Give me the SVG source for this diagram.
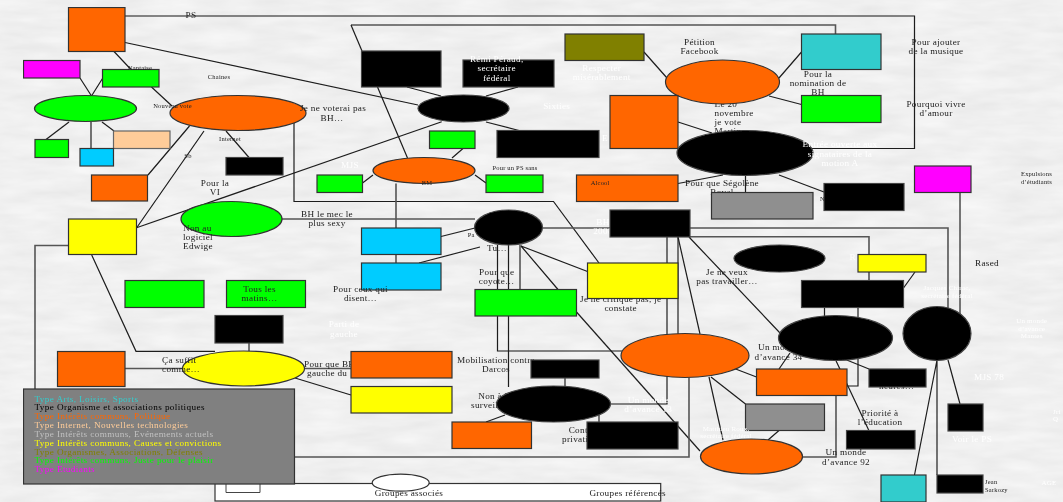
<svg xmlns="http://www.w3.org/2000/svg" width="1063" height="502" viewBox="0 0 1063 502">
<defs>
<filter id="paper" x="0" y="0" width="100%" height="100%" color-interpolation-filters="sRGB">
<feTurbulence type="fractalNoise" baseFrequency="0.02 0.09" numOctaves="3" seed="4"/>
<feColorMatrix type="matrix" values="0.07 0 0 0 0.905  0.07 0 0 0 0.905  0.07 0 0 0 0.905  0 0 0 0 1"/>
</filter>
<filter id="soft" x="0" y="0" width="100%" height="100%"><feGaussianBlur stdDeviation="0.35"/></filter>
</defs>
<style>
text{font-family:"Liberation Serif","Times New Roman",serif;font-size:9.2px;letter-spacing:.3px;fill:#222;text-anchor:middle}
.s{font-size:6.5px;letter-spacing:.2px}
.l{text-anchor:start}
.w{fill:#fff}
.t{font-size:7px;letter-spacing:.2px}
.leg{font-size:9.2px;letter-spacing:.38px;text-anchor:start}
#connectors path{fill:none;stroke:#1c1c1c;stroke-width:1.2}
#connectors path.g{stroke:#555;stroke-width:1.6}
rect,ellipse{stroke:#333;stroke-width:1.2}
.o{fill:#f60}.gr{fill:#0f0}.k{fill:#000;stroke:#444}.y{fill:#ff0}.b{fill:#0cf}.m{fill:#f0f}.c{fill:#3cc}
.p{fill:#fc9;stroke:#666}.ol{fill:#808000}.n{fill:#8f8f8f}.wh{fill:#fff}
</style>
<rect width="1063" height="502" filter="url(#paper)" style="stroke:none"/>
<g filter="url(#soft)">
<g id="connectors">
<path d="M125 16H914.500V148.500H803"/>
<path class="g" d="M835.500 34V25H351"/>
<path d="M351 25L362 51"/>
<path d="M125 42.500L418 105"/>
<path d="M114 51.500L131 69.500M151.500 87L172 106M80 78L91.500 96L102.500 78.500"/>
<path d="M69 122L46 139.500"/><path d="M91 122V148.500"/><path d="M102 122L114 131"/>
<path d="M189.500 126L148 175M204 131L136.500 228M226 131L249 157.500"/>
<path d="M294 122V201.500H553.500L599 263"/>
<path d="M136.500 227.700L441.700 121.700"/>
<path d="M407 87L441 96M518 87L486 96M486 122L519 130.500M377.500 87L407.500 158"/>
<path d="M463 148.500L452 158M475 175L486 183M373 175L362.500 183"/>
<path class="g" d="M396 183.500V228M396 254.500V263"/>
<path class="g" d="M282 219H475"/>
<path d="M441 236.500L475 228M419 263L480 247"/>
<path class="g" d="M543 228H948V315"/>
<path class="g" d="M690 236.700H869V254.500"/>
<path d="M869 272V280.500M915 272L903.500 288"/>
<path class="g" d="M960 192.500V316"/>
<path d="M644 52L667 78M779 78L801.500 52M769 96L801.500 104.500M678 122L712 133M678 183.500L723 175M779 175L824 192"/>
<path d="M745.500 175V192.500"/>
<path d="M667 237V404H610"/>
<path class="g" d="M678 237V334"/>
<path d="M678 237L700 334M689 237L780 333"/>
<path d="M497.500 245V351H622"/>
<path d="M508.500 245V387"/>
<path class="g" d="M520 245V289.500"/>
<path d="M521 246L558 289.500M521 246L587.500 271.500"/>
<path d="M576.500 312L700 451"/>
<path class="g" d="M689 377.500V457H294"/>
<path class="g" d="M565 378V387M599 415V422"/>
<path d="M486 422L505 415"/>
<path class="g" d="M305 368.500H351M125 368.500H182"/>
<path d="M295 378L351 395"/>
<path d="M733 368L756.500 377M711 377L745.500 404M709 377L723 440M779 430.500L768 440"/>
<path d="M779 369L790 353M836 360.700L869 430.700M846.700 360L869 369"/>
<path d="M824.500 307.500V316M858 307.500V386H847"/>
<path class="g" d="M836 395.500V457H802"/>
<path d="M937 360L914.500 475M948 360L960 404M937 360V475"/>
<path class="g" d="M68.500 245.500H35V389"/>
<path d="M91.700 255L136 351.300H215"/>
<path class="g" d="M249 343V351"/>
</g>

<g id="labels-behind">
<text x="191" y="18">PS</text>
<text x="714.500" y="107" class="l">Le 20</text><text x="714.500" y="116.300" class="l">novembre</text><text x="714.500" y="124.700" class="l">je vote</text><text x="714.500" y="133.700" class="l">Martine</text>
<text x="722" y="186.300">Pour que Ségolène</text><text x="722" y="195">Royal</text>
<text x="620.700" y="301.700">Je ne critique pas, je</text><text x="620.700" y="310.700">constate</text>
<text x="496" y="363.300">Mobilisation contre</text><text x="496" y="371.800">Darcos</text>
<text x="495" y="398.500">Non à la</text><text x="495" y="407.500">surveillance</text>
<text x="587" y="433">Contre la</text><text x="587" y="442">privatisation</text>
<text x="778.500" y="350.300">Un monde</text><text x="778.500" y="359.500">d’avance 34</text>
<text x="304" y="366.500" class="l">Pour que BH</text><text x="307" y="375.500" class="l">gauche du</text>
<text x="896.700" y="389">heures…</text>
<text x="497" y="251">Tu…</text>
<text x="467.700" y="237" class="s l">Pa</text>
<text x="820" y="201" class="s l">N</text>
<text x="603" y="225" class="w">BH</text><text x="603" y="234" class="w">2008</text>
</g>

<g id="n-orange-ps"><rect x="68.500" y="7.500" width="56.500" height="44" class="o"/></g>
<g id="n-magenta-1"><rect x="23.500" y="60.500" width="56.500" height="17.500" class="m"/></g>
<g id="n-green-1"><rect x="102.500" y="69.500" width="56.500" height="17.500" class="gr"/></g>
<g id="n-green-ellipse-1"><ellipse cx="85.500" cy="108.500" rx="51" ry="13" class="gr"/></g>
<g id="n-green-2"><rect x="35" y="139.500" width="33.500" height="18" class="gr"/></g>
<g id="n-peach"><rect x="113.500" y="131" width="56.500" height="17.500" class="p"/></g>
<g id="n-blue-1"><rect x="80" y="148.500" width="33.500" height="17.500" class="b"/></g>
<g id="n-orange-2"><rect x="91.500" y="175" width="56" height="26" class="o"/></g>
<g id="n-orange-ellipse-1"><ellipse cx="238" cy="113" rx="68" ry="17.500" class="o"/></g>
<g id="n-black-1"><rect x="226" y="157.500" width="57" height="17.500" class="k"/></g>
<g id="n-green-3"><rect x="317" y="175" width="45.500" height="17.500" class="gr"/></g>
<g id="n-green-ellipse-2"><ellipse cx="231.500" cy="219" rx="50.500" ry="17.500" class="gr"/></g>
<g id="n-yellow-1"><rect x="68.500" y="219" width="68" height="35.500" class="y"/></g>
<g id="n-green-4"><rect x="125" y="280.500" width="79" height="27" class="gr"/></g>
<g id="n-green-5"><rect x="226.500" y="280.500" width="79" height="27" class="gr"/><text x="259.500" y="292">Tous les</text><text x="259.500" y="301">matins…</text></g>
<g id="n-black-2"><rect x="215" y="315.500" width="68" height="27.500" class="k"/></g>
<g id="n-orange-3"><rect x="57.500" y="351.500" width="67.500" height="35" class="o"/></g>
<g id="n-yellow-ellipse"><ellipse cx="243.500" cy="368.500" rx="61" ry="17.500" class="y"/></g>
<g id="n-black-3"><rect x="361.500" y="51" width="79.500" height="36" class="k"/></g>
<g id="n-remi"><rect x="463" y="60" width="91" height="27" class="k"/><text x="496.700" y="62" class="w">Rémi Péraud,</text><text x="496.700" y="71.300" class="w">secrétaire</text><text x="496.700" y="80.500" class="w">fédéral</text></g>
<g id="n-black-ellipse-1"><ellipse cx="463.500" cy="108.500" rx="45.500" ry="13.500" class="k"/></g>
<g id="n-black-4"><rect x="497" y="130.500" width="102" height="27" class="k"/></g>
<g id="n-green-6"><rect x="429.500" y="131" width="45.500" height="17.500" class="gr"/></g>
<g id="n-orange-ellipse-2"><ellipse cx="424" cy="170.500" rx="51" ry="13" class="o"/><text x="427" y="185" class="s">BM</text></g>
<g id="n-green-7"><rect x="486" y="175" width="57" height="17.500" class="gr"/></g>
<g id="n-blue-2"><rect x="361.500" y="228" width="79.500" height="26.500" class="b"/></g>
<g id="n-blue-3"><rect x="361.500" y="263" width="79.500" height="27" class="b"/></g>
<g id="n-black-ellipse-2"><ellipse cx="508.500" cy="227.500" rx="34" ry="17.500" class="k"/></g>
<g id="n-black-5"><rect x="610" y="210" width="80" height="27" class="k"/></g>
<g id="n-olive"><rect x="565" y="34" width="79" height="26.500" class="ol"/></g>
<g id="n-orange-ellipse-3"><ellipse cx="722.500" cy="82" rx="57" ry="22" class="o"/></g>
<g id="n-cyan-1"><rect x="801.500" y="34" width="79.500" height="35.500" class="c"/></g>
<g id="n-green-8"><rect x="801.500" y="95.500" width="79.500" height="27" class="gr"/></g>
<g id="n-orange-4"><rect x="610" y="95.500" width="68" height="53" class="o"/></g>
<g id="n-black-ellipse-3"><ellipse cx="745" cy="153" rx="68" ry="22.500" class="k"/></g>
<g id="n-orange-alcool"><rect x="576.500" y="175" width="101.500" height="26.500" class="o"/><text x="590.700" y="185" class="s l">Alcool</text></g>
<g id="n-grey-1"><rect x="711.500" y="192.500" width="101.500" height="26.500" class="n"/></g>
<g id="n-black-6"><rect x="824" y="183.500" width="80" height="27" class="k"/></g>
<g id="n-magenta-2"><rect x="914.500" y="166" width="56.500" height="26.500" class="m"/></g>
<g id="n-black-ellipse-4"><ellipse cx="779.500" cy="258.500" rx="45.500" ry="13.500" class="k"/></g>
<g id="n-yellow-2"><rect x="858" y="254.500" width="68" height="17.500" class="y"/></g>
<g id="n-black-7"><rect x="801.500" y="280.500" width="102" height="27" class="k"/></g>
<g id="n-black-ellipse-5"><ellipse cx="835.500" cy="338" rx="57" ry="22.500" class="k"/></g>
<g id="n-black-circle"><ellipse cx="937" cy="333.500" rx="34" ry="27" class="k"/></g>
<g id="n-yellow-3"><rect x="587.500" y="263" width="90.500" height="35.500" class="y"/></g>
<g id="n-green-9"><rect x="475" y="289.500" width="101.500" height="26.500" class="gr"/></g>
<g id="n-orange-ellipse-4"><ellipse cx="685" cy="355.500" rx="64" ry="22" class="o"/></g>
<g id="n-orange-5"><rect x="351" y="351.500" width="101" height="26.500" class="o"/></g>
<g id="n-yellow-4"><rect x="351" y="386.500" width="101" height="26.500" class="y"/></g>
<g id="n-black-8"><rect x="531" y="360" width="68" height="18" class="k"/></g>
<g id="n-black-ellipse-6"><ellipse cx="553.500" cy="404" rx="57" ry="18" class="k"/></g>
<g id="n-orange-6"><rect x="452" y="422" width="79.500" height="26.500" class="o"/></g>
<g id="n-black-9"><rect x="587" y="422" width="91" height="27" class="k"/></g>
<g id="n-orange-ellipse-5"><ellipse cx="751.500" cy="456.500" rx="51" ry="17.500" class="o"/></g>
<g id="n-orange-7"><rect x="756.500" y="369" width="90.500" height="26.500" class="o"/></g>
<g id="n-grey-2"><rect x="745.500" y="404" width="79" height="26.500" class="n"/></g>
<g id="n-black-10"><rect x="869" y="369" width="57" height="18" class="k"/></g>
<g id="n-black-11"><rect x="846.500" y="430.500" width="68.500" height="18.500" class="k"/></g>
<g id="n-black-12"><rect x="948" y="404" width="35" height="27" class="k"/></g>
<g id="n-cyan-2"><rect x="881" y="475" width="45" height="27" class="c"/></g>
<g id="n-black-13"><rect x="937" y="475" width="46" height="18" class="k"/></g>

<g id="legend-key">
<rect x="215" y="483.500" width="445.700" height="17.500" class="wh"/>
<path d="M226 484V492.500H260V484" fill="none" stroke="#444"/>
<ellipse cx="400.700" cy="482.700" rx="28.500" ry="8.500" class="wh"/>
<text x="409" y="495.500">Groupes associés</text>
<text x="627.700" y="495.500">Groupes référencés</text>
</g>

<g id="labels-over">
<text x="140" y="70" class="s">Nantaise</text>
<text x="219" y="79" class="s">Chaines</text>
<text x="172.500" y="108" class="s">Nouveau vote</text>
<text x="333" y="111">Je ne  voterai pas</text><text x="332" y="120.500">BH…</text>
<text x="230" y="141" class="s">Internet</text>
<text x="188" y="158" class="s">Sb</text>
<text x="215" y="186">Pour la</text><text x="215" y="195">VI</text>
<text x="183" y="230.500" class="l">Non au</text><text x="183" y="239.500" class="l">logiciel</text><text x="183" y="248.500" class="l">Edwige</text>
<text x="327" y="217">BH le mec le</text><text x="327" y="226">plus sexy</text>
<text x="360.500" y="292">Pour ceux qui</text><text x="360.500" y="301">disent…</text>
<text x="344" y="327" class="w">Parti de</text><text x="344" y="336.500" class="w">gauche</text>
<text x="162" y="363" class="l">Ça suffit</text><text x="162" y="372" class="l">comme…</text>
<text x="496.700" y="274.700">Pour que</text><text x="496.700" y="283.500">coyote…</text>
<text x="727" y="274.700">Je ne veux</text><text x="727" y="283.500">pas travailler…</text>
<text x="846" y="455.300">Un monde</text><text x="846" y="464.500">d’avance 92</text>
<text x="880" y="416">Priorité à</text><text x="880" y="424.800">l’éducation</text>
<text x="985" y="484" class="s l">Jean</text><text x="985" y="491.500" class="s l">Sarkozy</text>
<text x="987" y="265.500">Rased</text>
<text x="1021" y="176" class="s l">Expulsions</text><text x="1021" y="183.500" class="s l">d’étudiants</text>
<text x="936" y="45.300">Pour ajouter</text><text x="936" y="54.300">de la musique</text>
<text x="936" y="107.300">Pourquoi vivre</text><text x="936" y="116.300">d’amour</text>
<text x="818" y="77">Pour la</text><text x="818" y="85.800">nomination de</text><text x="818" y="94.600">BH</text>
<text x="699.500" y="45.300">Pétition</text><text x="699.500" y="54.300">Facebook</text>
<text x="515" y="170" class="s">Pour un  PS sans</text>
<text x="840" y="147.300" class="w">Entrée ouverte aux</text><text x="840" y="156.700" class="w">signataires de la</text><text x="840" y="165.700" class="w">motion A</text>
<text x="350" y="168" class="w">MJS</text>
<text x="601.700" y="71.300" class="w">Respecter</text><text x="601.700" y="80.300" class="w">misérablement</text>
<text x="556.700" y="109" class="w">Sixties</text>
<text x="605" y="141" class="w">E</text>
<text x="852.700" y="260" class="w">R</text>
<text x="947" y="290" class="w t">Jacques Chirac,</text><text x="947" y="297.500" class="w t">secrétaire fédéral</text>
<text x="1031.700" y="323" class="w t">Un monde</text><text x="1031.700" y="330.500" class="w t">d’avance</text><text x="1031.700" y="338" class="w t">Mantes</text>
<text x="989" y="380.300" class="w">MJS 78</text>
<text x="972" y="442.300" class="w">Voir le PS</text>
<text x="1049" y="485" class="w t">AGE</text>
<text x="1053" y="413.500" class="w t l">Jri</text><text x="1053" y="421" class="w t l">Q</text>
<text x="648.300" y="402.700" class="w">Un monde</text><text x="648.300" y="411.700" class="w">d’avance 13</text>
<text x="726" y="430.500" class="w t">Matthieu Roux,</text><text x="726" y="438" class="w t">secrétaire  fédéral</text>
</g>

<g id="legend">
<rect x="23.500" y="389" width="271" height="95" fill="#808080" stroke="#222"/>
<text x="34.500" y="401.500" class="leg" style="fill:#3cc">Type Arts, Loisirs, Sports</text>
<text x="34.500" y="410" class="leg" style="fill:#000">Type Organisme et associations politiques</text>
<text x="34.500" y="419" class="leg" style="fill:#f60">Type Intérêts communs, Politique</text>
<text x="34.500" y="428" class="leg" style="fill:#fc9">Type Internet, Nouvelles technologies</text>
<text x="34.500" y="437" class="leg" style="fill:#c0c0c0">Type Intérêts communs, Evénements actuels</text>
<text x="34.500" y="446" class="leg" style="fill:#ff0">Type Intérêts communs, Causes et convictions</text>
<text x="34.500" y="454.500" class="leg" style="fill:#808000">Type Organismes, Associations, Défenses</text>
<text x="34.500" y="463" class="leg" style="fill:#0f0">Type Intérêts communs, Juste pour le plaisir</text>
<text x="34.500" y="471.500" class="leg" style="fill:#f0f">Type Etudiants</text>
</g>
</g>
</svg>
